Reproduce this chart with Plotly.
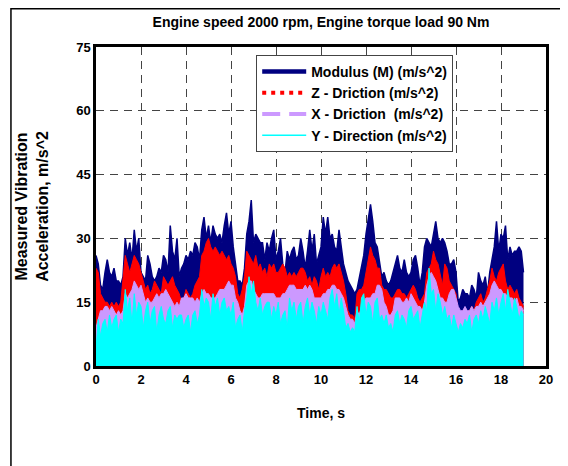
import plotly.graph_objects as go

# time axis: samples every 0.1 s from 0 to 19 s
time_s = [round(0.1 * i, 1) for i in range(191)]

modulus = [26,24,19,18,22,25,22,21,23,20,20,19,21,30,26,29,25,32,27,30,22,21,20,26,24,21,20,21,23,22,26,25,22,33,27,25,30,21,
           23,24,26,25,27,26,29,28,25,32,35,30,33,29,33,31,30,31,29,33,36,31,34,28,24,20,20,19,23,31,34,39,29,31,30,29,29,25,29,
           27,30,32,25,27,30,24,22,27,25,27,28,25,26,30,27,23,27,32,27,31,24,26,28,35,31,35,30,31,28,27,32,28,24,22,20,19,18,17,
           18,21,23,26,31,35,38,34,29,28,25,21,22,20,19,20,22,24,26,23,22,25,22,21,22,25,26,23,19,22,28,30,29,28,31,34,30,29,30,
           29,27,24,24,25,22,15,16,18,17,17,16,19,18,16,22,20,19,21,17,22,25,28,34,27,31,30,33,25,28,26,27,27,28,27,22]

z_dir = [23,22,17,16,15,15,14,15,14,15,14,15,20,26,24,22,24,26,25,24,22,20,18,19,17,18,20,19,18,17,21,20,19,20,21,19,18,17,
         15,16,18,17,16,17,19,20,21,26,27,29,30,28,27,28,27,26,27,26,25,26,24,23,21,17,16,18,21,27,26,25,24,26,23,24,22,23,21,
         24,23,24,22,22,23,24,23,21,22,21,22,21,22,23,23,22,20,21,19,21,20,18,21,23,21,22,21,23,24,23,24,22,20,17,13,12,12,11,
         17,18,18,19,22,25,28,26,25,23,23,19,18,18,17,16,16,17,18,18,17,17,16,17,18,19,18,16,15,16,17,22,23,24,27,25,24,21,19,
         24,23,20,19,18,17,12,11,13,13,12,13,14,13,15,16,17,15,16,18,20,23,21,20,22,23,24,20,18,19,18,17,18,16,15,14]

x_dir = [9,11,13,13,14,14,13,14,13,12,13,12,13,17,16,17,18,20,19,18,19,17,15,16,15,15,16,17,16,17,17,18,17,16,15,14,15,14,
         16,16,17,16,16,16,15,16,15,17,18,17,17,16,16,16,17,18,18,18,19,20,19,19,16,15,13,12,14,19,20,20,18,17,16,16,17,17,17,
         17,17,17,16,16,16,17,17,18,19,19,19,18,18,18,18,19,18,19,18,16,16,16,16,17,17,18,18,19,19,18,18,17,16,14,12,11,11,10,
         13,12,14,15,16,16,16,17,17,19,19,18,15,14,12,12,13,16,16,16,15,15,16,15,17,16,15,14,14,13,15,19,21,22,21,20,18,16,16,
         15,15,17,18,18,16,14,13,13,14,13,13,14,13,14,14,15,14,15,16,17,19,20,19,18,18,17,17,16,16,16,15,16,14,14,13]

y_dir = [4,11,7,10,11,8,12,9,11,12,8,11,10,18,13,16,10,17,12,15,14,9,13,15,10,13,14,8,12,14,11,10,13,14,9,12,11,12,
         12,9,11,12,8,12,13,10,12,18,14,16,15,11,17,14,16,12,15,16,13,14,12,15,9,11,12,8,13,16,21,17,20,15,13,16,12,14,15,
         15,11,14,12,15,10,12,13,9,16,13,15,11,14,15,10,14,16,12,15,13,10,14,12,15,13,11,16,18,14,17,12,16,13,9,10,8,9,8,
         14,10,16,17,12,15,14,10,15,16,11,12,10,12,9,10,8,12,13,10,12,11,9,13,14,11,12,13,9,12,15,13,23,17,18,13,17,15,12,
         14,11,12,9,12,10,8,10,9,11,10,12,8,11,12,10,13,11,14,12,10,15,13,16,12,15,17,13,18,15,12,16,14,11,13,12]

names = ["Modulus (M) (m/s^2)", "Z - Driction (m/s^2)", "X - Driction  (m/s^2)", "Y - Direction (m/s^2)"]
colors = ["#000080", "#FF0000", "#CC99FF", "#00FFFF"]
series = [modulus, z_dir, x_dir, y_dir]
fill_line_w = [1.5, 1, 1, 1]
legend_width = [4.5, 4, 4, 1.5]
legend_dash = ["solid", "4px,5px", "18px,9px", "solid"]

x_ticks = list(range(0, 21, 2))
y_ticks = list(range(0, 76, 15))

FONT = "Liberation Sans, Arial, sans-serif"

fig = go.Figure()
for vals, col, lw in zip(series, colors, fill_line_w):
    fig.add_trace(go.Scatter(x=time_s, y=vals, mode="lines", fill="tozeroy",
                             line=dict(color=col, width=lw), fillcolor=col,
                             showlegend=False, hoverinfo="skip"))
for nm, col, w, d in zip(names, colors, legend_width, legend_dash):
    fig.add_trace(go.Scatter(x=[None], y=[None], mode="lines", name=f"<b>{nm}</b>",
                             line=dict(color=col, width=w, dash=d)))

fig.update_layout(
    width=568, height=466,
    margin=dict(l=86, r=30, t=39, b=108),
    paper_bgcolor="white", plot_bgcolor="white",
    font=dict(family=FONT, color="black", size=13),
    title=dict(text="<b>Engine speed 2000 rpm, Engine torque load 90 Nm</b>",
               x=0.5, xref="paper", xanchor="center", y=0.97, yanchor="middle",
               font=dict(size=14, family=FONT)),
    legend=dict(x=0.356, y=0.975, xanchor="left", yanchor="top",
                bgcolor="white", bordercolor="#444", borderwidth=1,
                font=dict(size=14, family=FONT), itemwidth=44,
                tracegroupgap=0),
    showlegend=True,
)
fig.update_xaxes(range=[0, 20], tickvals=x_ticks, ticktext=[f"<b>{v}</b>" for v in x_ticks],
                 showgrid=True, gridcolor="#444", griddash="8px,6px", gridwidth=1,
                 showline=True, linecolor="black", linewidth=2.5, mirror=True,
                 ticks="", zeroline=False,
                 title=dict(text="<b>Time, s</b>", font=dict(size=14), standoff=22),
                 tickfont=dict(size=13))
fig.update_yaxes(range=[0, 75], tickvals=y_ticks, ticktext=[f"<b>{v}</b>" for v in y_ticks],
                 showgrid=True, gridcolor="#444", griddash="8px,6px", gridwidth=1,
                 showline=True, linecolor="black", linewidth=2.5, mirror=True,
                 ticks="", zeroline=False,
                 title=dict(text="<b>Measured Vibration<br>Acceleration, m/s^2</b>",
                            font=dict(size=16), standoff=24),
                 tickfont=dict(size=13))

# outer frame of the figure (right and bottom edges fall outside the view)
fig.add_shape(type="rect", xref="paper", yref="paper",
              x0=-0.189, x1=1.15, y0=-0.8, y1=1.12,
              line=dict(color="black", width=1.5), fillcolor="rgba(0,0,0,0)", layer="above")

fig.write_html("out.html")
